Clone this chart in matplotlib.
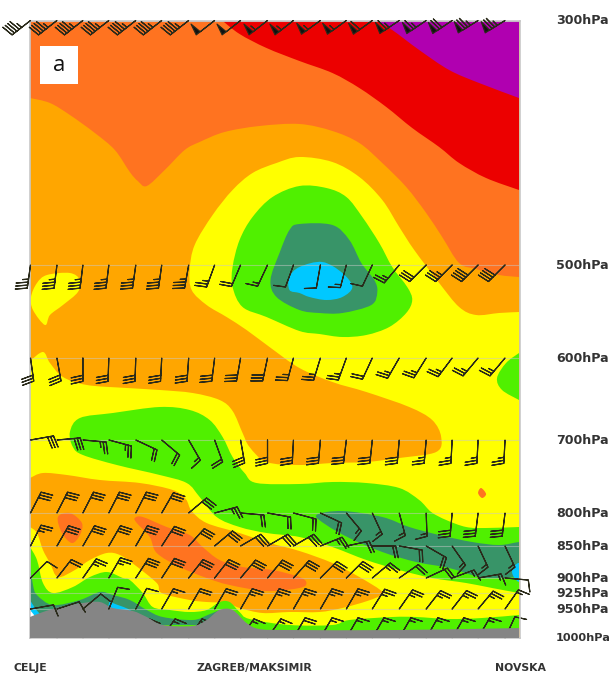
import numpy as np
import matplotlib
matplotlib.use("Agg")
import matplotlib.pyplot as plt
from matplotlib.path import Path
from matplotlib.patches import PathPatch, Rectangle
from matplotlib.transforms import ScaledTranslation

# section axes: x runs left to right along the cross section, y is the height
# position of each pressure level, both
x_min, x_max = 30, 520
y_top, y_bottom = 20.5, 638
level_names = ["300hPa", "500hPa", "600hPa", "700hPa", "800hPa", "850hPa", "900hPa", "925hPa", "950hPa", "1000hPa"]
level_y = [20.5, 265, 358, 440, 513, 546, 578, 593, 609, 638]
station_names = ["CELJE", "ZAGREB/MAKSIMIR", "NOVSKA"]
station_x = [30, 255, 521]
col_x = [30.5, 57, 83, 109, 136, 162, 189, 215, 241, 268, 294, 321, 347, 373, 400, 427, 453, 479, 506]

# wind: direction the staff points (deg clockwise from north), speed in kt
wind_dir = {
    300: [232, 232, 232, 232, 232, 232, 232, 232, 232, 232, 232, 234, 234, 234, 236, 236, 236, 238, 238],
    500: [188, 187, 187, 187, 188, 188, 190, 200, 203, 205, 200, 190, 195, 205, 220, 225, 225, 225, 225],
    600: [172, 170, 180, 182, 182, 183, 184, 187, 190, 192, 195, 197, 200, 205, 210, 212, 217, 220, 220],
    700: [80, 85, 95, 105, 115, 130, 150, 160, 170, 180, 183, 185, 187, 186, 185, 185, 183, 183, 183],
    800: [27, 27, 27, 27, 27, 30, 50, 75, 95, 100, 105, 115, 140, 155, 165, 178, 185, 187, 187],
    850: [27, 30, 30, 30, 30, 33, 42, 50, 60, 60, 60, 68, 78, 90, 100, 120, 145, 155, 155],
    900: [45, 38, 35, 30, 33, 33, 38, 38, 40, 40, 42, 45, 45, 50, 55, 65, 70, 80, 95],
    950: [80, 72, 50, 22, 28, 30, 30, 30, 30, 30, 30, 30, 30, 32, 35, 38, 38, 40, 35],
    1000: [35, 35, 35, 35, 35, 35, 35, 35, 35, 35, 30, 30, 30, 30, 30, 30, 30, 30, 25],
}
wind_speed = {
    300: [45, 45, 45, 45, 45, 45, 45, 50, 50, 55, 55, 55, 55, 60, 65, 65, 70, 75, 75],
    500: [35, 35, 35, 35, 35, 35, 35, 25, 20, 15, 10, 10, 15, 10, 25, 30, 35, 40, 40],
    600: [30, 30, 30, 30, 30, 30, 30, 30, 30, 30, 25, 25, 25, 20, 25, 25, 25, 25, 25],
    700: [30, 30, 25, 25, 20, 20, 15, 20, 30, 30, 30, 30, 30, 30, 30, 25, 25, 25, 25],
    800: [30, 30, 30, 30, 30, 30, 30, 25, 20, 20, 20, 20, 15, 15, 15, 15, 30, 30, 30],
    850: [25, 30, 30, 30, 30, 30, 30, 30, 30, 30, 30, 25, 20, 20, 20, 20, 15, 15, 15],
    900: [10, 20, 25, 25, 30, 30, 30, 30, 30, 30, 30, 30, 30, 25, 20, 20, 15, 15, 10],
    950: [10, 10, 10, 10, 10, 15, 20, 20, 25, 25, 25, 25, 25, 25, 25, 25, 25, 25, 15],
    1000: [15, 15, 15, 15, 15, 15, 15, 15, 15, 15, 20, 15, 15, 15, 15, 15, 15, 15, 10],
}

# filled moisture areas, outlines (curve, then frame corners)
orangered_curve = [(30, 98), (50, 103), (70, 115), (95, 133), (115, 150), (130, 172), (138, 181), (147, 186), (165, 170),
                   (185, 150), (200, 142), (225, 132), (260, 126), (300, 124), (333, 131), (360, 143), (383, 163),
                   (407, 187), (427, 213), (443, 237), (460, 263), (477, 269), (500, 275), (520, 277)]
orangered_corners = [(520, 20), (30, 20)]
red_curve = [(222, 20), (240, 34), (267, 48), (300, 61), (333, 73), (360, 88), (387, 107), (413, 128), (440, 147),
             (460, 163), (487, 178), (520, 190)]
red_corners = [(520, 20)]
purple_curve = [(376, 20), (393, 30), (420, 50), (450, 70), (480, 83), (520, 98)]
purple_corners = [(520, 20)]
yellow_curve = [(30, 361), (43, 352), (50, 363), (63, 377), (87, 385), (127, 388), (160, 390), (193, 393), (220, 400),
                (233, 411), (243, 433), (250, 447), (267, 462), (300, 465), (333, 463), (367, 462), (400, 458),
                (437, 452), (442, 437), (433, 420), (410, 407), (367, 392), (333, 382), (300, 368), (270, 347),
                (247, 330), (227, 317), (207, 305), (192, 290), (190, 270), (195, 245), (213, 215),
                (233, 190), (253, 173), (277, 163), (300, 157), (333, 162), (360, 177), (383, 200), (400, 227),
                (415, 250), (440, 283), (460, 307), (477, 315), (500, 313), (520, 312)]
yellow_corners = [(520, 640), (30, 640)]
yellow_blob = [(45, 325), (33, 310), (31, 297), (37, 283), (47, 275), (70, 273), (80, 280), (78, 292), (63, 305), (50, 315)]
green_dome = [(233, 267), (240, 240), (253, 217), (273, 197), (300, 186), (327, 188), (347, 197), (363, 217), (380, 243),
              (393, 267), (408, 287), (413, 300), (407, 313), (390, 327), (367, 335), (343, 337), (320, 334), (300, 331),
              (267, 317), (243, 307), (233, 287)]
dark_dome = [(271, 280), (280, 253), (290, 230), (300, 224), (333, 225), (350, 240), (362, 263), (375, 280), (378, 292),
             (372, 305), (343, 313), (320, 313), (300, 310), (277, 297)]
cyan_dome = [(290, 277), (300, 267), (323, 262), (343, 273), (353, 287), (343, 297), (327, 300), (310, 297), (300, 293), (290, 290)]
green_right_curve = [(520, 353), (507, 363), (498, 378), (503, 390), (520, 400)]
green_mid_curve = [(520, 593), (493, 588), (467, 583), (433, 578), (400, 570), (367, 560), (333, 547), (300, 537),
                   (267, 533), (240, 527), (217, 517), (200, 497), (187, 483), (160, 475), (117, 465), (83, 455),
                   (73, 447), (70, 432), (80, 418), (113, 413), (160, 407), (190, 410), (210, 420), (223, 437),
                   (233, 457), (245, 473), (257, 483), (300, 484), (333, 482), (367, 483), (400, 488), (420, 500),
                   (432, 512), (447, 520), (467, 527), (487, 528), (520, 527)]
dark_mid = [(317, 515), (343, 511), (383, 517), (410, 527), (440, 535), (473, 542), (500, 545), (520, 542), (530, 542),
            (530, 577), (520, 577), (500, 578), (480, 577), (450, 568), (417, 562), (383, 552), (350, 538), (327, 525)]
cyan_right = [(520, 563), (513, 572), (520, 582), (530, 575)]
orange_low_curve = [(30, 527), (37, 533), (43, 550), (50, 563), (58, 577), (75, 570), (90, 560), (107, 553), (120, 555),
                    (135, 565), (157, 583), (162, 593), (190, 600), (207, 602), (227, 603), (240, 608), (263, 613),
                    (290, 612), (320, 612), (343, 608), (368, 601), (382, 595), (381, 590), (360, 577), (333, 563), (300, 551),
                    (270, 543), (240, 533), (207, 523), (192, 511), (186, 499), (173, 490), (140, 483), (100, 480),
                    (67, 475), (43, 473), (30, 478)]
orangered_blob1 = [(58, 517), (70, 513), (82, 523), (80, 535), (72, 543), (62, 533)]
orangered_blob2 = [(135, 518), (143, 517), (167, 527), (190, 535), (203, 547), (220, 560), (243, 567), (273, 570), (300, 577),
                   (307, 583), (300, 588), (267, 591), (230, 585), (207, 578), (180, 567), (157, 553), (150, 537), (137, 523)]
orange_speck = [(482, 488), (487, 494), (483, 498), (479, 493)]
green_low_curve = [(30, 547), (37, 560), (43, 583), (53, 593), (73, 587), (90, 577), (107, 572), (123, 578), (130, 580),
                   (143, 593), (153, 607), (170, 610), (190, 612), (207, 610), (220, 602), (230, 602), (240, 612),
                   (250, 619), (290, 625), (333, 625), (350, 620), (393, 617), (417, 617), (450, 619), (483, 618), (520, 615)]
green_low_corners = [(520, 640), (30, 640)]
dark_low_curve = [(30, 566), (33, 585), (37, 595), (53, 605), (80, 600), (100, 592), (113, 595), (130, 600), (147, 610),
                  (163, 617), (193, 620), (208, 615), (220, 610)]
dark_low_corners = [(220, 625), (30, 625)]
cyan_low_a = [(30, 600), (35, 608), (40, 614), (50, 625), (30, 625)]
cyan_low_b = [(110, 600), (113, 603), (130, 610), (138, 620), (105, 620)]
white_sliver = [(30, 610), (35, 617), (30, 619)]
ground_curve = [(30, 617), (43, 612), (60, 607), (83, 603), (100, 602), (113, 608), (133, 611), (147, 617), (163, 625),
                (193, 626), (207, 620), (220, 610), (233, 610), (247, 623), (260, 629), (290, 630), (400, 630), (520, 628)]
ground_corners = [(520, 638), (30, 638)]


def smooth_path(pts, corners=None):
    # Catmull-Rom through the read points, then straight to the frame corners
    pts = np.array(pts, dtype=float)
    n = len(pts)
    closed = corners is None
    verts = [pts[0]]
    codes = [Path.MOVETO]
    for i in range(n if closed else n - 1):
        if closed:
            p0, p1, p2, p3 = pts[(i - 1) % n], pts[i], pts[(i + 1) % n], pts[(i + 2) % n]
        else:
            p0, p1, p2, p3 = pts[max(i - 1, 0)], pts[i], pts[i + 1], pts[min(i + 2, n - 1)]
        verts += [p1 + (p2 - p0) / 6, p2 - (p3 - p1) / 6, p2]
        codes += [Path.CURVE4] * 3
    for c in corners or []:
        verts.append(c)
        codes.append(Path.LINETO)
    verts.append(pts[0])
    codes.append(Path.CLOSEPOLY)
    return Path(verts, codes)


C_ORANGE = "#ffa600"
C_ORANGERED = "#ff7320"
C_RED = "#ec0000"
C_PURPLE = "#b000b0"
C_YELLOW = "#ffff00"
C_GREEN = "#50f000"
C_DARK = "#389468"
C_CYAN = "#00c8ff"
C_GROUND = "#858585"

fig = plt.figure(figsize=(6.13, 6.75), dpi=100)
W, H = 613, 675
ax = fig.add_axes([x_min / W, 1 - y_bottom / H, (x_max - x_min) / W, (y_bottom - y_top) / H])
ax.set_xlim(x_min, x_max)
ax.set_ylim(y_bottom, y_top)
ax.set_facecolor(C_ORANGE)

frame = Rectangle((x_min, y_top), x_max - x_min, y_bottom - y_top, transform=ax.transData)


def fill(pts, color, corners=None, z=1):
    p = PathPatch(smooth_path(pts, corners), facecolor=color, edgecolor="none", zorder=z)
    ax.add_patch(p)
    p.set_clip_path(frame)


fill(orangered_curve, C_ORANGERED, orangered_corners)
fill(red_curve, C_RED, red_corners)
fill(purple_curve, C_PURPLE, purple_corners)
fill(yellow_curve, C_YELLOW, yellow_corners)
fill(yellow_blob, C_YELLOW)
fill(green_dome, C_GREEN)
fill(dark_dome, C_DARK)
fill(cyan_dome, C_CYAN)
fill(green_right_curve, C_GREEN, [])
fill(green_mid_curve, C_GREEN, [])
fill(dark_mid, C_DARK)
fill(cyan_right, C_CYAN)
fill(orange_low_curve, C_ORANGE, [])
fill(orangered_blob1, C_ORANGERED)
fill(orangered_blob2, C_ORANGERED)
fill(orange_speck, C_ORANGERED)
fill(green_low_curve, C_GREEN, green_low_corners)
fill(dark_low_curve, C_DARK, dark_low_corners)
fill(cyan_low_a, C_CYAN, [])
fill(cyan_low_b, C_CYAN, [])
fill(white_sliver, "white", [])

ax.hlines(level_y, x_min, x_max, color="#c8c8c8", lw=0.8, alpha=0.5, zorder=3)

# the 1000 hPa row sits below the ground fill, the others above it
for level, y in zip([300, 500, 600, 700, 800, 850, 900, 950, 1000], [level_y[i] for i in (0, 1, 2, 3, 4, 5, 6, 8, 9)]):
    d = np.radians(wind_dir[level])
    s = np.array(wind_speed[level], dtype=float)
    ax.barbs(col_x, [y] * len(col_x), -s * np.sin(d), -s * np.cos(d), length=5.8, linewidth=0.85,
             barbcolor="#2a2a1a", flagcolor="#111111", clip_on=False,
             zorder=2 if level == 1000 else 5, sizes=dict(spacing=0.13, height=0.5, width=0.22),
             barb_increments=dict(half=5, full=10, flag=50))

fill(ground_curve, C_GROUND, ground_corners, z=4)

ax.add_patch(Rectangle((40, 46), 38, 38, facecolor="white", edgecolor="none", zorder=6))
ax.text(59, 65, "a", family="Open Sans", fontsize=16, ha="center", va="center", color="#111111", zorder=7)

ax.set_yticks(level_y)
ax.set_yticklabels(level_names)
ax.set_xticks(station_x)
ax.set_xticklabels(station_names)
ax.yaxis.tick_right()
ax.tick_params(axis="y", length=0, pad=26, labelsize=9.1, labelcolor="#333333")
ax.tick_params(axis="x", length=0, pad=18, labelsize=7.8, labelcolor="#333333")
for lab in ax.get_yticklabels() + ax.get_xticklabels():
    lab.set_fontweight("bold")
for lab in ax.get_yticklabels():
    lab.set_transform(lab.get_transform() + ScaledTranslation(0, 1.5 / 100, fig.dpi_scale_trans))
# the reference runs this last label into the picture edge, keep it inside
ax.get_yticklabels()[-1].set_fontsize(8.1)
for sp in ax.spines.values():
    sp.set_color("#c8c8c8")
    sp.set_linewidth(1.2)

fig.savefig("out.png", dpi=100)
